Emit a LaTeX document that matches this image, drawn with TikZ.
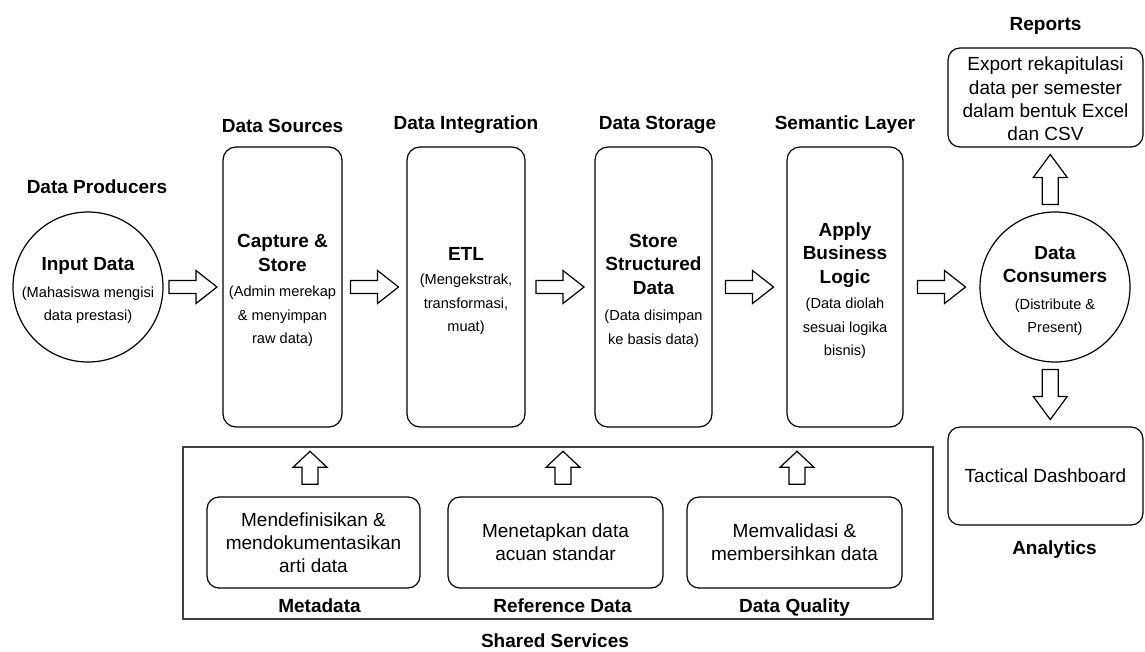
\documentclass[tikz,border=0pt]{standalone}
\usepackage{fontspec}
\setmainfont{Liberation Sans}
\usetikzlibrary{positioning,calc}

\newcommand{\ttl}{\fontsize{19}{23}\selectfont\bfseries}
\newcommand{\subtxt}{\fontsize{14.6}{23.5}\selectfont\mdseries}
\newcommand{\topgap}{\rule{0pt}{21pt}}

\tikzset{
  pics/blockarrow/.style n args={4}{code={
    \draw[arrowline] (-#1/2,-#4/2) -- (#1/2-#2,-#4/2) -- (#1/2-#2,-#3/2) -- (#1/2,0)
      -- (#1/2-#2,#3/2) -- (#1/2-#2,#4/2) -- (-#1/2,#4/2) -- cycle;
  }}
}

\begin{document}
\begin{tikzpicture}[%
    x=1pt,
    y=-1pt,
    line width=1.2pt,
    stage/.style={%
      draw,
      rounded corners=13pt,
      minimum height=280pt,
      inner sep=0pt,
      align=center,
      font=\subtxt
    },
    circ/.style={%
      circle,
      draw,
      minimum size=150pt,
      inner sep=-2pt,
      align=center,
      font=\subtxt
    },
    card/.style={%
      draw,
      rounded corners=12pt,
      inner sep=0pt,
      align=center,
      font=\fontsize{19}{23.3}\selectfont
    },
    hdr/.style={%
      font=\fontsize{19}{23}\selectfont\bfseries,
      inner sep=0pt,
      text height=14pt,
      text depth=4pt
    },
    arrowline/.style={draw, line width=1.2pt, fill=white}
  ]
    \useasboundingbox (0,0) rectangle (1145,651);

    % main row
    \node[circ] (inp) at (88,287)
      {\ttl\topgap Input Data\\[3pt] (Mahasiswa mengisi\\ data prestasi)};
    \node[stage, minimum width=119pt] (cap) at (282.5,287)
      {\ttl\topgap Capture \&\\ \ttl Store\\[2pt] (Admin merekap\\ \& menyimpan\\ raw data)};
    \node[stage, minimum width=118pt] (etl) at (466,287)
      {\ttl\topgap ETL\\[1pt] (Mengekstrak,\\ transformasi,\\ muat)};
    \node[stage, minimum width=117pt] (sto) at (653.5,287)
      {\ttl\topgap Store\\ \ttl Structured\\ \ttl Data\\[3pt] (Data disimpan\\ ke basis data)};
    \node[stage, minimum width=116pt] (sem) at (845,287)
      {\ttl\topgap Apply\\ \ttl Business\\ \ttl Logic\\[2pt] (Data diolah\\ sesuai logika\\ bisnis)};
    \node[circ] (con) at (1055,287)
      {\ttl\topgap Data\\ \ttl Consumers\\[3pt] (Distribute \&\\ Present)};

    % outputs
    \node[card, minimum width=195pt, minimum height=99pt] (rep) at (1045.5,97.5)
      {\rule{0pt}{17pt}Export rekapitulasi\\ data per semester\\ dalam bentuk Excel\\ dan CSV};
    \node[card, minimum width=195pt, minimum height=98pt] (dash) at (1045.5,476)
      {Tactical Dashboard};

    % shared services
    \node[draw=black!75, line width=1.6pt, minimum width=750pt, minimum height=172pt] (shared) at (558,533) {};
    \node[card, minimum width=213pt, minimum height=91pt] (meta) at (313.5,542.5)
      {Mendefinisikan \&\\ mendokumentasikan\\ arti data};
    \node[card, minimum width=215pt, minimum height=91pt] (refd) at (555.5,542.5)
      {Menetapkan data\\ acuan standar};
    \node[card, minimum width=215pt, minimum height=91pt] (qual) at (794.5,542.5)
      {Memvalidasi \&\\ membersihkan data};

    % headers
    \node[hdr, above=13pt of inp, xshift=9pt] (hprod) {Data Producers};
    \node[hdr, above=9pt of cap] (hsrc) {Data Sources};
    \node[hdr, above=12pt of etl] (hint) {Data Integration};
    \node[hdr, above=12pt of sto, xshift=4pt] (hsto) {Data Storage};
    \node[hdr, above=12pt of sem] (hsem) {Semantic Layer};
    \node[hdr, above=12pt of rep] (hrep) {Reports};
    \node[hdr, below=14pt of dash, xshift=9pt] (hana) {Analytics};
    \node[hdr, below=9pt of meta, xshift=6pt] (hmeta) {Metadata};
    \node[hdr, below=9pt of refd, xshift=7pt] (hrefd) {Reference Data};
    \node[hdr, below=9pt of qual] (hqual) {Data Quality};
    \node[hdr, below=13pt of shared, xshift=-3pt] (hshared) {Shared Services};

    % block arrows
    \pic at ($(inp.east)!.5!(cap.west)$) {blockarrow={48}{21}{33}{13}};
    \pic at ($(cap.east)!.5!(etl.west)$) {blockarrow={48}{21}{33}{13}};
    \pic at ($(etl.east)!.5!(sto.west)$) {blockarrow={48}{21}{33}{13}};
    \pic at ($(sto.east)!.5!(sem.west)$) {blockarrow={48}{21}{33}{13}};
    \pic at ($(sem.east)!.5!(con.west)$) {blockarrow={48}{21}{33}{13}};
    \pic[rotate=90] at ($(con.north)!.5!(rep.south)$) {blockarrow={50}{23}{34}{16}};
    \pic[rotate=-90] at ($(con.south)!.5!(dash.north)$) {blockarrow={50}{23}{34}{16}};
    \pic[rotate=90] at ($(meta.north)!.5!(meta.north |- shared.north)+(-3.5pt,3.5pt)$) {blockarrow={33}{16}{34}{16}};
    \pic[rotate=90] at ($(refd.north)!.5!(refd.north |- shared.north)+(7.5pt,3.5pt)$) {blockarrow={33}{16}{34}{16}};
    \pic[rotate=90] at ($(qual.north)!.5!(qual.north |- shared.north)+(2.5pt,3.5pt)$) {blockarrow={33}{16}{34}{16}};
\end{tikzpicture}
\end{document}
